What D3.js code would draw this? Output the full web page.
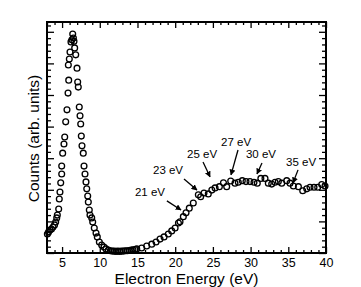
<!DOCTYPE html>
<html>
<head>
<meta charset="utf-8">
<script src="https://cdn.jsdelivr.net/npm/d3@7"></script>
<style>
  body { margin: 0; background: #fff; }
  text { font-family: "Liberation Sans", Arial, sans-serif; fill: #000; }
</style>
</head>
<body>
<div id="chart"></div>
<script>
// Data (counts in arbitrary units)
var energy = [3.05, 3.2, 3.4, 3.6, 3.8, 4.0, 4.15, 4.29, 4.37, 4.55, 4.63, 4.72, 4.82, 4.95, 4.95,
  5.08, 5.25, 5.35, 5.48, 5.65, 5.79, 5.88, 5.83, 5.96, 6.05, 6.18, 6.3, 6.41, 6.5, 6.58, 6.67,
  6.81, 6.98, 7.07, 7.15, 7.28, 7.38, 7.47, 7.55, 7.64, 7.81, 7.91, 8.04, 8.17, 8.27, 8.40,
  8.48, 8.61, 8.70, 8.93, 9.06, 9.27, 9.50, 9.67, 9.94, 10.25, 10.56, 10.82, 11.13,
  11.4, 11.65, 11.9, 12.15, 12.4, 12.65, 12.9, 13.15, 13.4, 13.65, 13.9, 14.15, 14.4, 14.65,
  14.9, 15.56, 16.22, 16.89, 17.46, 17.99, 18.52, 19.09, 19.54, 19.99, 20.43, 20.64, 21.08,
  21.44, 21.87, 22.40, 23.07, 23.38, 23.82, 24.39, 24.86, 25.29, 25.86, 26.40, 26.83, 27.36,
  27.93, 28.37, 28.90, 29.39, 29.92, 30.45, 30.89, 31.36, 31.91, 32.35, 32.80, 33.24, 33.68,
  34.13, 34.79, 35.23, 35.67, 36.34, 36.91, 37.44, 37.88, 38.41, 38.90, 39.43, 39.87];
var counts = [0.60, 0.66, 0.73, 0.76, 0.82, 0.89, 0.98, 1.11, 1.20, 1.39, 1.71, 1.93, 2.22, 2.50, 2.75,
  3.16, 3.45, 3.67, 4.15, 4.53, 5.06, 5.47, 5.95, 6.14, 6.36, 6.68, 6.75, 6.93, 6.80, 6.70, 6.49,
  6.27, 5.85, 5.41, 5.25, 4.62, 4.34, 4.08, 3.70, 3.39, 3.16, 2.75, 2.50, 2.25, 2.03, 1.80,
  1.61, 1.36, 1.20, 1.11, 0.98, 0.79, 0.63, 0.51, 0.35, 0.25, 0.19, 0.13, 0.09,
  0.07, 0.06, 0.06, 0.05, 0.06, 0.05, 0.06, 0.06, 0.07, 0.07, 0.08, 0.09, 0.10, 0.11,
  0.13, 0.16, 0.22, 0.28, 0.35, 0.44, 0.51, 0.60, 0.70, 0.79, 0.95, 0.99, 1.15,
  1.27, 1.42, 1.58, 1.84, 1.78, 1.90, 1.87, 1.99, 2.06, 2.10, 2.22, 2.10, 2.28,
  2.21, 2.24, 2.29, 2.26, 2.26, 2.24, 2.21, 2.36, 2.36, 2.21, 2.18, 2.24, 2.26,
  2.21, 2.29, 2.21, 2.12, 2.10, 1.97, 2.03, 2.08, 2.08, 2.08, 2.17, 2.12];

var xTicks = [5, 10, 15, 20, 25, 30, 35, 40];

// Annotations: label position and arrow start/end, in data units
var annLabels = ["21 eV", "23 eV", "25 eV", "27 eV", "30 eV", "35 eV"];
var annTextE = [16.66, 19.05, 23.56, 28.07, 31.38, 36.69];
var annTextC = [1.90, 2.59, 3.10, 3.48, 3.10, 2.85];
var annFromE = [18.9, 21.17, 23.69, 28.33, 31.51, 36.29];
var annFromC = [1.65, 2.34, 2.88, 3.26, 2.85, 2.63];
var annToE = [20.77, 22.89, 24.62, 27.40, 30.85, 35.63];
var annToC = [1.36, 1.99, 2.41, 2.47, 2.50, 2.22];

var width = 361, height = 287;
var margin = { top: 22, right: 35, bottom: 34, left: 47 };

var svg = d3.select("#chart").append("svg")
  .attr("width", width)
  .attr("height", height);

var x = d3.scaleLinear().domain([3, 40]).range([margin.left, width - margin.right]);
var y = d3.scaleLinear().domain([0, 7.31]).range([height - margin.bottom, margin.top]);

var plotBottom = height - margin.bottom, plotTop = margin.top;
var plotLeft = margin.left, plotRight = width - margin.right;

// minor ticks
var xMinor = d3.range(3, 41, 1).filter(function(v) { return v % 5 !== 0; });
var yMinor = d3.range(0, 7.31, 0.2).filter(function(v) { return Math.abs(v - Math.round(v)) > 0.01; });
var yMajor = d3.range(0, 8, 1);

function noDomain(g) { g.select(".domain").remove(); g.selectAll("line").attr("stroke-width", 1.3); }

svg.append("g").attr("transform", "translate(0," + plotBottom + ")")
  .call(d3.axisBottom(x).tickValues(xMinor).tickSize(-3).tickFormat(""))
  .call(noDomain);
svg.append("g").attr("transform", "translate(0," + plotBottom + ")")
  .call(d3.axisBottom(x).tickValues(xTicks).tickSize(-6).tickPadding(5).tickFormat(d3.format("d")))
  .call(noDomain)
  .selectAll("text").style("font-size", "12.5px").style("font-family", "Liberation Sans, Arial, sans-serif");
svg.append("g").attr("transform", "translate(0," + plotTop + ")")
  .call(d3.axisTop(x).tickValues(xMinor).tickSize(-3).tickFormat(""))
  .call(noDomain);
svg.append("g").attr("transform", "translate(0," + plotTop + ")")
  .call(d3.axisTop(x).tickValues(xTicks).tickSize(-6).tickFormat(""))
  .call(noDomain);

svg.append("g").attr("transform", "translate(" + plotLeft + ",0)")
  .call(d3.axisLeft(y).tickValues(yMinor).tickSize(-4).tickFormat(""))
  .call(noDomain);
svg.append("g").attr("transform", "translate(" + plotLeft + ",0)")
  .call(d3.axisLeft(y).tickValues(yMajor).tickSize(-7).tickFormat(""))
  .call(noDomain);
svg.append("g").attr("transform", "translate(" + plotRight + ",0)")
  .call(d3.axisRight(y).tickValues(yMinor).tickSize(-4).tickFormat(""))
  .call(noDomain);
svg.append("g").attr("transform", "translate(" + plotRight + ",0)")
  .call(d3.axisRight(y).tickValues(yMajor).tickSize(-7).tickFormat(""))
  .call(noDomain);

// frame
svg.append("rect")
  .attr("x", plotLeft).attr("y", plotTop)
  .attr("width", plotRight - plotLeft).attr("height", plotBottom - plotTop)
  .attr("fill", "none").attr("stroke", "#000").attr("stroke-width", 2);

// data points
svg.append("g").selectAll("circle")
  .data(d3.range(energy.length))
  .enter().append("circle")
  .attr("cx", function(i) { return x(energy[i]); })
  .attr("cy", function(i) { return y(counts[i]); })
  .attr("r", 2.9)
  .attr("fill", "none")
  .attr("stroke", "#000")
  .attr("stroke-width", 1.3);

// arrow head
svg.append("defs").append("marker")
  .attr("id", "head")
  .attr("viewBox", "0 0 10 10")
  .attr("refX", 9).attr("refY", 5)
  .attr("markerWidth", 6).attr("markerHeight", 6)
  .attr("markerUnits", "userSpaceOnUse")
  .attr("orient", "auto")
  .append("path").attr("d", "M0,0 L10,5 L0,10 Z").attr("fill", "#000");

var ann = svg.append("g");
annLabels.forEach(function(label, i) {
  ann.append("line")
    .attr("x1", x(annFromE[i])).attr("y1", y(annFromC[i]))
    .attr("x2", x(annToE[i])).attr("y2", y(annToC[i]))
    .attr("stroke", "#000").attr("stroke-width", 1.3)
    .attr("marker-end", "url(#head)");
  ann.append("text")
    .attr("x", x(annTextE[i])).attr("y", y(annTextC[i]))
    .attr("text-anchor", "middle")
    .attr("dominant-baseline", "middle")
    .style("font-size", "11.5px")
    .text(label);
});

// axis titles
svg.append("text")
  .attr("x", (plotLeft + plotRight) / 2).attr("y", 284)
  .attr("text-anchor", "middle")
  .style("font-size", "15.5px")
  .text("Electron Energy (eV)");

svg.append("text")
  .attr("transform", "translate(39," + ((plotTop + plotBottom) / 2 + 1) + ") rotate(-90)")
  .attr("text-anchor", "middle")
  .style("font-size", "15.5px")
  .text("Counts (arb. units)");
</script>
</body>
</html>
